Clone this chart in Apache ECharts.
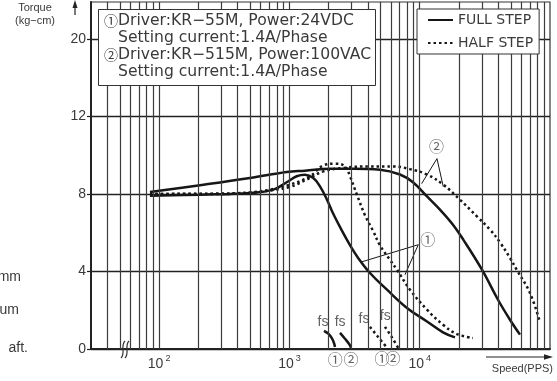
<!DOCTYPE html>
<html>
<head>
<meta charset="utf-8">
<script src="https://cdn.jsdelivr.net/npm/echarts@6/dist/echarts.min.js"></script>
<style>
  html, body { margin: 0; padding: 0; background: #fff; }
  #chart { width: 557px; height: 381px; }
</style>
</head>
<body>
<div id="chart"></div>
<script>
// Pull-out torque vs. speed (pulse rate), two drivers, full / half step.
// Speed axis is logarithmic (PPS), torque in kg-cm.

const speedMin = 30;
const speedMax = 100000;
const speedLabels = [100, 1000, 10000];

// Torque scale: the top step is compressed, so the fifth gridline carries "20".
const torqueTicks = [0, 4, 8, 12, 16];
const torqueLabels = ['0', '4', '8', '12', '20'];

// Driver ① (KR-55M, 24VDC)
const fullStep1 = [[85, 7.9], [206, 7.96], [498, 8.05], [752, 8.22], [953, 8.6], [1137, 8.91],
  [1317, 8.99], [1525, 8.82], [1716, 8.39], [1943, 7.7], [2160, 7.0], [2532, 6.1], [2916, 5.36],
  [3359, 4.71], [4153, 3.92], [5609, 3.06], [7985, 2.12], [11370, 1.42], [15090, 0.86], [18650, 0.6]];
const halfStep1 = [[85, 8.0], [300, 8.02], [500, 8.08], [710, 8.22], [1010, 8.48], [1438, 8.91],
  [1809, 9.46], [2237, 9.56], [2669, 9.42], [2916, 8.91], [3300, 7.95], [3801, 6.9], [4378, 6.1],
  [4955, 5.35], [5911, 4.6], [6690, 4.09], [8421, 3.06], [11370, 2.03], [15090, 1.25], [19320, 0.77],
  [25630, 0.57]];

// Driver ② (KR-515M, 100VAC)
const fullStep2 = [[85, 8.1], [206, 8.45], [498, 8.82], [953, 9.13], [1317, 9.2], [2048, 9.3],
  [3074, 9.3], [4955, 9.25], [7056, 9.0], [8879, 8.6], [11370, 7.87], [14300, 7.19], [18000, 6.41],
  [21600, 5.64], [30060, 4.09], [39880, 2.54], [49300, 1.51], [58830, 0.74]];
const halfStep2 = [[85, 8.0], [300, 8.0], [500, 8.05], [750, 8.2], [1010, 8.36], [1357, 8.74],
  [1819, 9.16], [2591, 9.34], [4153, 9.42], [6268, 9.42], [8421, 9.28], [11370, 9.0], [15150, 8.48],
  [20370, 7.7], [27510, 6.84], [34620, 6.16], [41300, 5.5], [49300, 4.7], [55500, 4.09],
  [70200, 2.89], [83750, 1.38]];

// Start-frequency (fs) marks near the speed axis
const fsFull1 = [[1842, 0.94], [1988, 0.79], [2110, 0.57], [2198, 0.31], [2237, 0.1]];
const fsFull2 = [[2444, 0.83], [2669, 0.53], [2865, 0.27], [2969, 0.07]];
const fsHalf1 = [[4153, 1.14], [4783, 0.63], [5510, 0.13]];
const fsHalf2 = [[5413, 1.14], [6124, 0.6], [6846, 0.05]];
const fsTagPos = [[1809, 1.37], [2450, 1.37], [3735, 1.56], [5440, 1.72]];
const driverTagPos = [[2250, -0.52], [2970, -0.52], [5133, -0.48], [6234, -0.48]];
const driverTagText = ['①', '②', '①', '②'];

// Leader lines from the circled driver numbers to their curves
const leader1 = [[3606, 4.5], [9750, 5.38], [7705, 3.83]];
const leader2 = [[10350, 8.53], [13570, 9.82], [15170, 8.37]];
const leaderTagPos = [[11530, 5.68], [13450, 10.45]];
const leaderTagText = ['①', '②'];

const infoLines = [
  ['①', 'Driver:KR−55M, Power:24VDC'],
  ['', 'Setting current:1.4A/Phase'],
  ['②', 'Driver:KR−515M, Power:100VAC'],
  ['', 'Setting current:1.4A/Phase']
];
const sideNotes = ['mm', 'um', 'aft.'];

// Vertical gridlines at 1..9 x 10^n inside the speed range
const speedGrid = [];
for (let d = 10; d < speedMax; d *= 10) {
  for (let k = 1; k <= 9; k++) {
    const v = k * d;
    if (v > speedMin && v < speedMax) speedGrid.push(v);
  }
}

const INK = '#161616';
const TXT = '#3a3a3a';
const LATIN = '"Liberation Sans", Arial, sans-serif';
const WIDE = '"DejaVu Sans", "Noto Sans CJK KR", sans-serif';
const CJK = '"Noto Sans CJK KR", "DejaVu Sans", sans-serif';

function curve(name, data, dotted) {
  return {
    name: name, type: 'line', data: data, symbol: 'none', silent: true,
    smooth: 0.4, z: 4,
    lineStyle: { color: INK, width: 2.5, type: dotted ? [2.5, 3] : 'solid', cap: 'butt' },
    itemStyle: { color: INK }
  };
}
function polyline(name, data, width) {
  return {
    name: name, type: 'line', data: data, symbol: 'none', silent: true, z: 3,
    lineStyle: { color: INK, width: width }, itemStyle: { color: INK }
  };
}
function tags(name, pos, texts, font, size, clip) {
  return {
    name: name, type: 'scatter', silent: true, clip: clip, z: 5,
    symbolSize: 1, itemStyle: { color: 'rgba(0,0,0,0)' },
    data: pos.map((p, i) => ({ value: p, name: texts[i] })),
    label: { show: true, position: 'inside', formatter: '{b}', color: TXT, fontSize: size, fontFamily: font }
  };
}

const chart = echarts.init(document.getElementById('chart'), null, { renderer: 'canvas' });

const graphic = [
  // condition box
  { type: 'rect', z: 20, shape: { x: 98.5, y: 9.5, width: 277, height: 76 },
    style: { fill: '#fff', stroke: '#333', lineWidth: 1 } },
  // torque arrow
  { type: 'line', z: 20, shape: { x1: 75, y1: 6, x2: 75, y2: 15 }, style: { stroke: '#222', lineWidth: 1.2 } },
  { type: 'polygon', z: 20, shape: { points: [[75, 0], [72.5, 8], [77.5, 8]] }, style: { fill: '#222' } },
  { type: 'text', z: 20, x: 35, y: 7.5, style: { text: 'Torque', fontSize: 11, fontFamily: LATIN, fill: TXT, align: 'center', verticalAlign: 'middle' } },
  { type: 'text', z: 20, x: 35, y: 21, style: { text: '(kg−cm)', fontSize: 11, fontFamily: LATIN, fill: TXT, align: 'center', verticalAlign: 'middle' } },
  // speed arrow
  { type: 'line', z: 20, shape: { x1: 486, y1: 357, x2: 546, y2: 357 }, style: { stroke: '#222', lineWidth: 1.2 } },
  { type: 'polygon', z: 20, shape: { points: [[553, 357], [544, 354.3], [544, 359.7]] }, style: { fill: '#222' } },
  { type: 'text', z: 20, x: 553, y: 369, style: { text: 'Speed(PPS)', fontSize: 11, fontFamily: LATIN, fill: TXT, align: 'right', verticalAlign: 'middle' } },
  // axis break mark
  { type: 'bezierCurve', z: 20, shape: { x1: 121, y1: 358, cpx1: 126, cpy1: 353, cpx2: 120, cpy2: 346, x2: 125, y2: 341 }, style: { stroke: '#333', lineWidth: 1.2, fill: null } },
  { type: 'bezierCurve', z: 20, shape: { x1: 125, y1: 358, cpx1: 130, cpy1: 353, cpx2: 124, cpy2: 346, x2: 129, y2: 341 }, style: { stroke: '#333', lineWidth: 1.2, fill: null } }
];
const infoY = [20.7, 38.3, 55, 71.7];
infoLines.forEach((ln, i) => {
  if (ln[0]) graphic.push({ type: 'text', z: 21, x: 104, y: infoY[i],
    style: { text: ln[0], fontSize: 14, fontFamily: CJK, fill: TXT, align: 'left', verticalAlign: 'middle' } });
  graphic.push({ type: 'text', z: 21, x: 118, y: infoY[i],
    style: { text: ln[1], fontSize: 15.6, fontFamily: WIDE, fill: TXT, align: 'left', verticalAlign: 'middle' } });
});
const noteY = [277, 310, 348];
const noteRight = [21, 19, 28];
sideNotes.forEach((t, i) => {
  graphic.push({ type: 'text', z: 20, x: noteRight[i], y: noteY[i],
    style: { text: t, fontSize: 14, fontFamily: LATIN, fill: TXT, align: 'right', verticalAlign: 'middle' } });
});

chart.setOption({
  animation: false,
  backgroundColor: '#fff',
  grid: { left: 91, right: 7, top: 2, bottom: 32, show: true, borderColor: '#333', borderWidth: 1.2, backgroundColor: 'transparent' },
  legend: {
    data: ['FULL STEP', 'HALF STEP'], orient: 'vertical', left: 417, top: 9,
    padding: [4, 6, 4, 10], itemWidth: 25, itemHeight: 12, itemGap: 9,
    borderColor: '#333', borderWidth: 1, backgroundColor: '#fff', selectedMode: false, z: 20,
    itemStyle: { color: 'rgba(0,0,0,0)', borderWidth: 0 },
    textStyle: { fontFamily: WIDE, fontSize: 14, color: TXT }
  },
  xAxis: {
    type: 'log', logBase: 10, min: speedMin, max: speedMax,
    axisLine: { lineStyle: { color: '#222', width: 2 } },
    axisTick: { show: false },
    splitLine: { show: false },
    axisLabel: {
      margin: 5, showMinLabel: true, showMaxLabel: true,
      formatter: function (v) {
        const e = Math.round(Math.log10(v));
        if (Math.abs(Math.log10(v) - e) > 1e-6) return '';
        if (speedLabels.indexOf(Math.pow(10, e)) < 0) return '';
        return '{b|10}{s|' + e + '}';
      },
      rich: {
        b: { fontSize: 14, fontFamily: LATIN, color: TXT, lineHeight: 20 },
        s: { fontSize: 9, fontFamily: LATIN, color: TXT, lineHeight: 9, verticalAlign: 'top', padding: [0, 0, 0, 2] }
      }
    }
  },
  yAxis: {
    type: 'value', min: 0, max: 17.9, interval: 4,
    axisLine: { show: true, lineStyle: { color: '#222', width: 2 } },
    axisTick: { show: true, inside: false, length: 4, lineStyle: { color: '#222', width: 1.2 }, customValues: torqueTicks },
    splitLine: { show: true, lineStyle: { color: '#222', width: 1.3 } },
    axisLabel: {
      margin: 5, fontSize: 14, fontFamily: LATIN, color: TXT, customValues: torqueTicks,
      formatter: function (v) {
        const i = torqueTicks.indexOf(v);
        return i >= 0 ? torqueLabels[i] : '';
      }
    }
  },
  graphic: graphic,
  series: [
    {
      name: 'speed grid', type: 'line', data: [], silent: true, z: 1,
      markLine: {
        silent: true, symbol: ['none', 'none'], animation: false,
        label: { show: false },
        lineStyle: { color: '#3c3c3c', width: 1.2, type: 'solid' },
        data: speedGrid.map(v => ({ xAxis: v }))
      }
    },
    curve('FULL STEP', fullStep1, false),
    curve('FULL STEP', fullStep2, false),
    curve('HALF STEP', halfStep1, true),
    curve('HALF STEP', halfStep2, true),
    curve('fs full ①', fsFull1, false),
    curve('fs full ②', fsFull2, false),
    curve('fs half ①', fsHalf1, true),
    curve('fs half ②', fsHalf2, true),
    polyline('leader ①', leader1, 1),
    polyline('leader ②', leader2, 1),
    tags('leader tags', leaderTagPos, leaderTagText, CJK, 15, false),
    tags('fs tags', fsTagPos, ['fs', 'fs', 'fs', 'fs'], LATIN, 14, false),
    tags('driver tags', driverTagPos, driverTagText, CJK, 15, false)
  ]
});
</script>
</body>
</html>
